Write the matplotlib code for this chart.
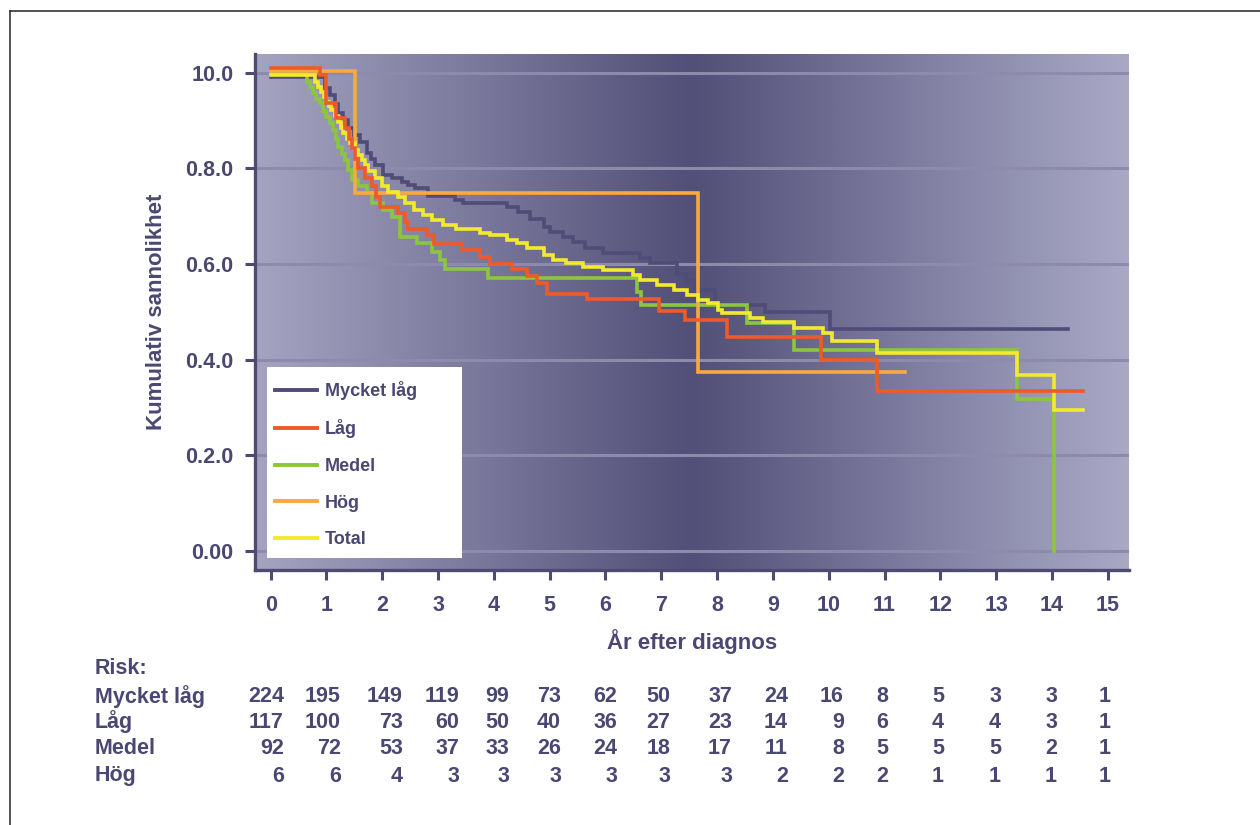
import numpy as np
import matplotlib; matplotlib.use('Agg')
import matplotlib.pyplot as plt
from matplotlib.colors import LinearSegmentedColormap
from matplotlib.lines import Line2D
from matplotlib.patches import Rectangle

# ---- data ----
groups = ['Mycket låg', 'Låg', 'Medel', 'Hög', 'Total']
colors = ['#4f4c78', '#ef5a29', '#8cc63e', '#f8a93f', '#f3ea2e']

t_mycket = [0, 0.97, 1.06, 1.15, 1.21, 1.30, 1.38, 1.50, 1.60, 1.72, 1.80, 1.87, 2.02, 2.17, 2.35, 2.47, 2.59,
            2.82, 3.30, 3.45, 4.23, 4.44, 4.65, 4.89, 5.00, 5.24, 5.42, 5.63, 5.96, 6.62, 6.80, 7.28, 7.45,
            7.60, 7.97, 8.86, 10.02, 14.29]
v_mycket = [0.99, 0.967, 0.953, 0.935, 0.915, 0.90, 0.884, 0.87, 0.856, 0.831, 0.82, 0.807, 0.786, 0.779,
            0.772, 0.765, 0.758, 0.742, 0.734, 0.727, 0.720, 0.709, 0.693, 0.678, 0.667, 0.657, 0.646, 0.633,
            0.623, 0.612, 0.601, 0.58, 0.565, 0.545, 0.514, 0.50, 0.463, 0.463]

t_lag = [0, 0.88, 1.0, 1.18, 1.33, 1.40, 1.45, 1.52, 1.57, 1.69, 1.81, 1.88, 1.96, 2.29, 2.40, 2.47, 2.80,
         2.92, 3.42, 3.75, 3.93, 4.32, 4.59, 4.77, 4.95, 5.66, 6.95, 7.42, 8.17, 9.87, 10.86, 14.56]
v_lag = [1.009, 0.995, 0.936, 0.905, 0.884, 0.862, 0.842, 0.82, 0.80, 0.779, 0.762, 0.74, 0.72, 0.706, 0.688,
         0.674, 0.66, 0.642, 0.629, 0.615, 0.60, 0.589, 0.575, 0.56, 0.537, 0.526, 0.502, 0.483, 0.448, 0.40,
         0.335, 0.335]

t_medel = [0, 0.65, 0.71, 0.76, 0.82, 0.88, 0.94, 1.0, 1.06, 1.12, 1.17, 1.21, 1.27, 1.33, 1.39, 1.45, 1.57,
           1.72, 1.81, 2.02, 2.17, 2.32, 2.62, 2.89, 3.03, 3.12, 3.90, 6.56, 6.63, 8.53, 9.37, 13.37, 14.04]
v_medel = [1.0, 0.981, 0.969, 0.957, 0.945, 0.936, 0.92, 0.908, 0.894, 0.880, 0.862, 0.845, 0.83, 0.817, 0.797,
           0.776, 0.762, 0.748, 0.727, 0.713, 0.699, 0.657, 0.643, 0.626, 0.608, 0.589, 0.570, 0.542, 0.514,
           0.476, 0.42, 0.317, 0.0]

t_hog = [0, 1.51, 7.66, 11.37]
v_hog = [1.004, 0.748, 0.375, 0.375]

t_total = [0, 0.79, 0.85, 0.91, 0.96, 1.0, 1.05, 1.09, 1.15, 1.21, 1.26, 1.30, 1.36, 1.42, 1.51, 1.57, 1.63,
           1.69, 1.75, 1.87, 1.99, 2.11, 2.29, 2.41, 2.56, 2.73, 2.89, 3.09, 3.33, 3.75, 3.93, 4.23, 4.41,
           4.59, 4.89, 5.06, 5.30, 5.60, 5.96, 6.50, 6.62, 6.92, 7.22, 7.46, 7.66, 7.84, 8.02, 8.08, 8.59,
           8.83, 9.37, 9.90, 10.05, 10.86, 13.37, 14.03, 14.56]
v_total = [0.996, 0.981, 0.970, 0.960, 0.950, 0.939, 0.93, 0.922, 0.91, 0.897, 0.885, 0.873, 0.862, 0.852,
           0.838, 0.827, 0.817, 0.806, 0.795, 0.779, 0.762, 0.751, 0.741, 0.727, 0.713, 0.702, 0.692, 0.681,
           0.674, 0.664, 0.660, 0.650, 0.643, 0.633, 0.619, 0.608, 0.601, 0.594, 0.587, 0.577, 0.566, 0.556,
           0.545, 0.535, 0.524, 0.518, 0.504, 0.497, 0.486, 0.479, 0.465, 0.455, 0.439, 0.414, 0.368, 0.294,
           0.294]

curves_t = [t_mycket, t_lag, t_medel, t_hog, t_total]
curves_v = [v_mycket, v_lag, v_medel, v_hog, v_total]

yticks = [0.0, 0.2, 0.4, 0.6, 0.8, 1.0]
ytick_labels = ['0.00', '0.2.0', '0.4.0', '0.6.0', '0.8.0', '10.0']
xticks = list(range(16))

risk_rows = ['Mycket låg', 'Låg', 'Medel', 'Hög']
risk_mycket = [224, 195, 149, 119, 99, 73, 62, 50, 37, 24, 16, 8, 5, 3, 3, 1]
risk_lag = [117, 100, 73, 60, 50, 40, 36, 27, 23, 14, 9, 6, 4, 4, 3, 1]
risk_medel = [92, 72, 53, 37, 33, 26, 24, 18, 17, 11, 8, 5, 5, 5, 2, 1]
risk_hog = [6, 6, 4, 3, 3, 3, 3, 3, 3, 2, 2, 2, 1, 1, 1, 1]

# ---- style ----
TXT = '#4a4873'
plt.rcParams['font.family'] = ['Liberation Sans', 'DejaVu Sans']
plt.rcParams['font.weight'] = 'bold'

fig = plt.figure(figsize=(12.6, 8.25), dpi=100)
ax = fig.add_axes([255/1260, 1-570/825, 874/1260, 516/825])

# gradient background (light edges, dark middle)
cmap = LinearSegmentedColormap.from_list('bg', [(0, '#a4a3c0'), (0.5, '#524f78'), (1, '#a9a9c6')])
ax.imshow(np.linspace(0, 1, 512)[None, :], cmap=cmap, extent=[0, 1, 0, 1], aspect='auto',
          transform=ax.transAxes, zorder=0, interpolation='bilinear')

ax.set_xlim(-0.28, 15.38)
ax.set_ylim(-0.04, 1.039)
ax.set_axisbelow(True)
ax.yaxis.grid(True, color='#8d8aac', lw=2.2)

order = [0, 2, 3, 4, 1]
for i in order:
    ax.step(curves_t[i], curves_v[i], where='post', color=colors[i], lw=2.6, zorder=3 + order.index(i),
            solid_joinstyle='miter')

for s in ['top', 'right']:
    ax.spines[s].set_visible(False)
for s in ['left', 'bottom']:
    ax.spines[s].set_color('#4d4a73'); ax.spines[s].set_linewidth(2.4)

ax.set_yticks(yticks); ax.set_yticklabels(ytick_labels)
ax.set_xticks(xticks)
ax.tick_params(axis='both', colors='#4d4a73', length=7, width=2.2, labelsize=15.5, labelcolor=TXT)
ax.tick_params(axis='y', pad=8.5)
ax.tick_params(axis='x', pad=11)
ax.set_xlabel('År efter diagnos', fontsize=16, color=TXT, labelpad=9.5, fontweight='bold')
ax.set_ylabel('Kumulativ sannolikhet', fontsize=16, color=TXT, labelpad=13, fontweight='bold')

# legend: white box drawn separately, entries on top
ax.add_patch(Rectangle((12/874, 12/516), 195/874, 191/516, transform=ax.transAxes,
                       facecolor='white', edgecolor='none', zorder=9))
handles = [Line2D([], [], color=c, lw=2.8) for c in colors]
leg = ax.legend(handles, groups, loc='upper left', bbox_to_anchor=(20/874, 1-(381-54)/516), fontsize=13,
                frameon=False, labelspacing=1.08, handlelength=2.3, handletextpad=0.45, borderpad=0.0,
                borderaxespad=0)
for txt in leg.get_texts():
    txt.set_color(TXT)
leg.set_zorder(10)

# risk table
FS = 15.5
fig.text(95/1260, 1-668/825, 'Risk:', fontsize=FS, color=TXT, va='center', ha='left')
row_y = [697, 722, 749, 776]
col_right = [284, 341, 403, 459, 509, 561, 617, 670, 732, 788, 844, 888, 944, 1001, 1057, 1111]
for name, vals, y in zip(risk_rows, [risk_mycket, risk_lag, risk_medel, risk_hog], row_y):
    fig.text(95/1260, 1-y/825, name, fontsize=FS, color=TXT, va='center', ha='left')
    for v, xr in zip(vals, col_right):
        fig.text(xr/1260, 1-y/825, str(v), fontsize=FS, color=TXT, va='center', ha='right')

# partial outer frame
fig.add_artist(Line2D([10/1260, 1], [1-11/825, 1-11/825], color='#333333', lw=1.2))
fig.add_artist(Line2D([10/1260, 10/1260], [0, 1-11/825], color='#333333', lw=1.2))

fig.savefig('out.png', dpi=100)
